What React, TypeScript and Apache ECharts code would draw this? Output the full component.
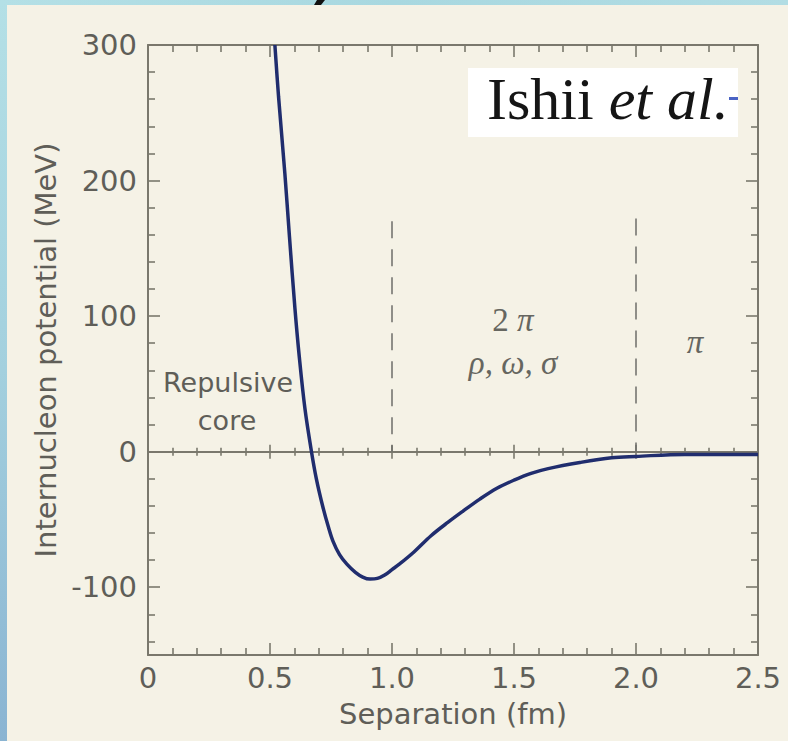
import React, { useEffect, useRef } from 'react';
import * as echarts from 'echarts';

// Separation (fm) and internucleon potential (MeV)
const separation = [0.52, 0.535, 0.561, 0.58, 0.602, 0.62, 0.643, 0.67, 0.69, 0.717, 0.74, 0.758, 0.785, 0.815, 0.85, 0.88, 0.91, 0.94, 0.97, 1.0, 1.03, 1.09, 1.16, 1.23, 1.29, 1.36, 1.43, 1.5, 1.57, 1.64, 1.77, 1.9, 2.0, 2.2, 2.5];
const potential = [300, 262, 205, 158, 106, 70, 32, 0, -20, -41, -56, -66, -76, -83, -89, -92.5, -94, -93.5, -91, -87, -83, -74, -62, -52, -44, -35, -27, -21, -16, -12.5, -8, -4.5, -3.5, -2, -2];

const xTickLabels = ['0', '0.5', '1.0', '1.5', '2.0', '2.5'];
const yTickValues = [-100, 0, 100, 200, 300];
const regionBoundaries = [1.0, 2.0];
const boundaryTops = [170, 172];

const axisColor = '#7a786d';
const textColor = '#5f5e58';
const sans = 'DejaVu Sans';
const serif = 'Liberation Serif';

export default function App() {
  const ref = useRef<HTMLDivElement>(null);

  useEffect(() => {
    document.body.style.margin = '0';
    const chart = echarts.init(ref.current as HTMLDivElement, null, { renderer: 'svg' });

    const axisLineStyle = { color: axisColor, width: 2 };
    const tickLineStyle = { color: axisColor, width: 1.6 };

    const xBase = {
      type: 'value',
      min: 0,
      max: 2.5,
      interval: 0.5,
      splitLine: { show: false },
      minorSplitLine: { show: false },
    };
    const yBase = {
      type: 'value',
      min: -150,
      max: 300,
      splitNumber: 5,
      splitLine: { show: false },
      minorSplitLine: { show: false },
    };

    const option: any = {
      animation: false,
      backgroundColor: '#f5f2e6',
      grid: { left: 148, right: 30, top: 45, bottom: 86 },
      xAxis: [
        {
          ...xBase,
          position: 'bottom',
          axisLine: { onZero: false, lineStyle: axisLineStyle },
          axisTick: { inside: true, length: 12, lineStyle: tickLineStyle },
          minorTick: { show: true, splitNumber: 5, length: 7, lineStyle: tickLineStyle },
          axisLabel: {
            margin: 8,
            fontFamily: sans,
            fontSize: 29,
            color: textColor,
            formatter: (_v: number, i: number) => xTickLabels[i] ?? '',
          },
          name: 'Separation (fm)',
          nameLocation: 'middle',
          nameGap: 44,
          nameTextStyle: { fontFamily: sans, fontSize: 29, color: textColor },
        },
        {
          ...xBase,
          position: 'top',
          axisLine: { onZero: false, lineStyle: axisLineStyle },
          axisTick: { inside: true, length: 12, lineStyle: tickLineStyle },
          minorTick: { show: true, splitNumber: 5, length: 7, lineStyle: tickLineStyle },
          axisLabel: { show: false },
        },
        {
          ...xBase,
          position: 'bottom',
          axisLine: { onZero: true, onZeroAxisIndex: 0, lineStyle: axisLineStyle },
          axisTick: { inside: true, length: 7, lineStyle: tickLineStyle },
          minorTick: { show: true, splitNumber: 5, length: 4, lineStyle: tickLineStyle },
          axisLabel: { show: false },
        },
        {
          ...xBase,
          position: 'bottom',
          axisLine: { onZero: true, onZeroAxisIndex: 0, lineStyle: axisLineStyle },
          axisTick: { inside: false, length: 7, lineStyle: tickLineStyle },
          minorTick: { show: true, splitNumber: 5, length: 4, lineStyle: tickLineStyle },
          axisLabel: { show: false },
        },
      ],
      yAxis: [
        {
          ...yBase,
          position: 'left',
          axisLine: { onZero: false, lineStyle: axisLineStyle },
          axisTick: { inside: true, length: 12, lineStyle: tickLineStyle },
          minorTick: { show: true, splitNumber: 5, length: 7, lineStyle: tickLineStyle },
          axisLabel: {
            margin: 11,
            fontFamily: sans,
            fontSize: 29,
            color: textColor,
            formatter: (v: number) => (yTickValues.includes(v) ? String(v) : ''),
          },
          name: 'Internucleon potential (MeV)',
          nameLocation: 'middle',
          nameRotate: 90,
          nameGap: 86,
          nameTextStyle: { fontFamily: sans, fontSize: 29, color: textColor },
        },
        {
          ...yBase,
          position: 'right',
          axisLine: { onZero: false, lineStyle: axisLineStyle },
          axisTick: { inside: true, length: 12, lineStyle: tickLineStyle },
          minorTick: { show: true, splitNumber: 5, length: 7, lineStyle: tickLineStyle },
          axisLabel: { show: false },
        },
      ],
      series: [
        {
          type: 'line',
          xAxisIndex: 0,
          yAxisIndex: 0,
          data: separation.map((x, i) => [x, potential[i]]),
          showSymbol: false,
          smooth: 0.35,
          lineStyle: { color: '#202d6e', width: 3.5 },
          z: 5,
          markLine: {
            silent: true,
            symbol: ['none', 'none'],
            label: { show: false },
            lineStyle: { color: '#6e6e6a', width: 1.5, type: [17, 11] },
            data: regionBoundaries.map((x, i) => [
              { coord: [x, boundaryTops[i]] },
              { coord: [x, 0] },
            ]),
          },
        },
      ],
      graphic: [
        {
          type: 'rect',
          shape: { x: 0, y: 0, width: 7, height: 741 },
          style: {
            fill: new echarts.graphic.LinearGradient(0, 0, 0, 1, [
              { offset: 0, color: '#b4e0e6' },
              { offset: 0.5, color: '#a3d0de' },
              { offset: 1, color: '#8ab4d2' },
            ]),
          },
        },
        {
          type: 'rect',
          shape: { x: 0, y: 0, width: 788, height: 5 },
          style: {
            fill: new echarts.graphic.LinearGradient(0, 0, 1, 0, [
              { offset: 0, color: '#b4e0e6' },
              { offset: 0.5, color: '#a8d8e0' },
              { offset: 1, color: '#b2dde4' },
            ]),
          },
        },
        {
          type: 'polygon',
          shape: { points: [[317, 0], [325, 0], [321, 5], [314, 5]] },
          style: { fill: '#111111' },
        },
        {
          type: 'rect',
          shape: { x: 468, y: 68, width: 270, height: 69 },
          style: { fill: '#ffffff' },
        },
        {
          type: 'text',
          x: 487,
          y: 99,
          style: {
            text: '{a|Ishii }{b|et al.}',
            align: 'left',
            verticalAlign: 'middle',
            rich: {
              a: { fontFamily: serif, fontSize: 60, fill: '#151515' },
              b: { fontFamily: serif, fontSize: 60, fontStyle: 'italic', fill: '#151515' },
            },
          },
        },
        {
          type: 'rect',
          shape: { x: 729, y: 97, width: 9, height: 3 },
          style: { fill: '#4a63c4' },
        },
        {
          type: 'text',
          x: 228,
          y: 382,
          style: { text: 'Repulsive', fontFamily: sans, fontSize: 27, fill: textColor, align: 'center', verticalAlign: 'middle' },
        },
        {
          type: 'text',
          x: 227,
          y: 420,
          style: { text: 'core', fontFamily: sans, fontSize: 27, fill: textColor, align: 'center', verticalAlign: 'middle' },
        },
        {
          type: 'text',
          x: 513,
          y: 320,
          style: {
            text: '{n|2 }{g|π}',
            align: 'center',
            verticalAlign: 'middle',
            rich: {
              n: { fontFamily: serif, fontSize: 33, fill: '#666660' },
              g: { fontFamily: serif, fontSize: 33, fontStyle: 'italic', fill: '#666660' },
            },
          },
        },
        {
          type: 'text',
          x: 513,
          y: 363,
          style: { text: 'ρ, ω, σ', fontFamily: serif, fontSize: 33, fontStyle: 'italic', fill: '#666660', align: 'center', verticalAlign: 'middle' },
        },
        {
          type: 'text',
          x: 695,
          y: 342,
          style: { text: 'π', fontFamily: serif, fontSize: 33, fontStyle: 'italic', fill: '#666660', align: 'center', verticalAlign: 'middle' },
        },
      ],
    };

    chart.setOption(option);
    return () => chart.dispose();
  }, []);

  return <div ref={ref} style={{ position: 'absolute', left: 0, top: 0, width: 788, height: 741 }} />;
}
